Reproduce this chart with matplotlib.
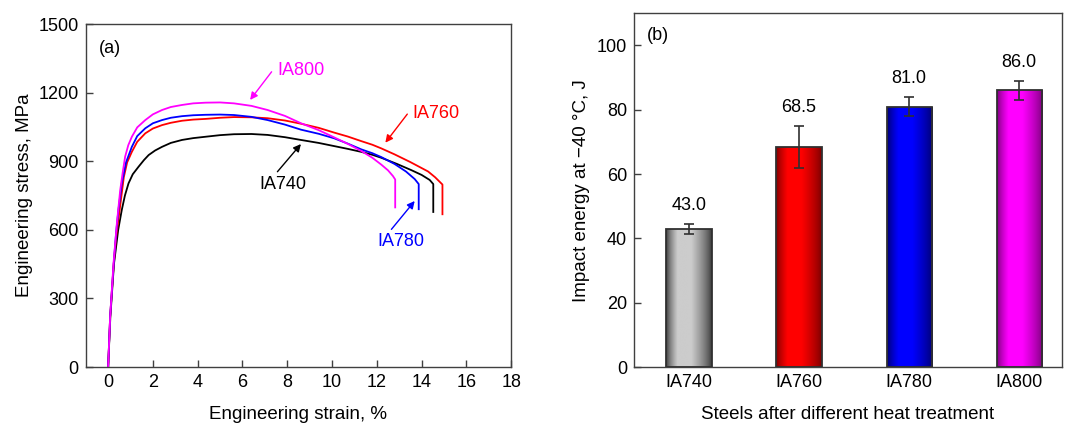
import numpy as np
import matplotlib
matplotlib.use('Agg')
import matplotlib.pyplot as plt

plt.rcParams['font.family'] = ['Liberation Sans', 'DejaVu Sans']
plt.rcParams['font.size'] = 13

# (a) engineering stress-strain curves
strain_740 = [0, 0.1, 0.26, 0.45, 0.61, 0.75, 0.91, 1.1, 1.36, 1.6, 1.81, 2.1, 2.41, 2.8, 3.3, 3.8, 4.35, 5.0, 5.62, 6.4,
              7.12, 7.9, 8.61, 9.4, 10.1, 10.7, 11.3, 11.8, 12.2, 12.9, 13.54, 14.0, 14.36, 14.52, 14.52]
stress_740 = [0, 220, 450, 600, 687, 750, 803, 843, 876, 905, 927, 947, 963, 980, 993, 1001, 1007, 1014, 1018, 1019,
              1015, 1005, 993, 980, 966, 954, 941, 928, 915, 888, 861, 840, 818, 800, 678]

strain_760 = [0, 0.09, 0.25, 0.36, 0.48, 0.7, 0.85, 1.06, 1.3, 1.66, 2.0, 2.41, 2.8, 3.3, 3.8, 4.35, 5.0, 5.62, 6.4,
              7.12, 7.9, 8.61, 9.4, 10.1, 10.7, 11.3, 11.8, 12.2, 12.79, 13.5, 14.29, 14.6, 14.93, 14.93]
stress_760 = [0, 220, 450, 570, 660, 830, 895, 941, 985, 1022, 1043, 1058, 1068, 1077, 1082, 1085, 1090, 1093, 1092,
              1088, 1078, 1064, 1046, 1025, 1008, 988, 972, 956, 930, 896, 855, 830, 798, 668]

strain_780 = [0, 0.09, 0.25, 0.36, 0.46, 0.61, 0.8, 1.06, 1.3, 1.66, 2.0, 2.41, 2.8, 3.3, 3.8, 4.35, 5.0, 5.62, 6.4,
              7.12, 7.9, 8.61, 9.4, 10.1, 10.7, 11.3, 11.8, 12.2, 12.79, 13.3, 13.69, 13.87, 13.87]
stress_780 = [0, 220, 453, 590, 687, 803, 895, 963, 1010, 1044, 1066, 1080, 1090, 1097, 1101, 1103, 1104, 1102, 1094,
              1080, 1060, 1038, 1020, 1000, 977, 952, 935, 918, 888, 855, 822, 800, 690]

strain_800 = [0, 0.09, 0.24, 0.39, 0.54, 0.65, 0.76, 0.9, 1.06, 1.3, 1.66, 2.0, 2.41, 2.8, 3.3, 3.8, 4.35, 5.0, 5.62,
              6.4, 7.12, 7.9, 8.61, 9.4, 10.1, 10.7, 11.3, 11.8, 12.2, 12.5, 12.72, 12.82, 12.82]
stress_800 = [0, 220, 453, 628, 774, 850, 920, 970, 1007, 1048, 1080, 1105, 1124, 1137, 1146, 1153, 1156, 1157, 1153,
              1142, 1124, 1098, 1066, 1036, 1004, 976, 945, 915, 885, 860, 835, 820, 698]

# (b) impact energy
steels = ['IA740', 'IA760', 'IA780', 'IA800']
energy = [43.0, 68.5, 81.0, 86.0]
energy_err = [1.6, 6.5, 3.0, 3.0]

fig = plt.figure(figsize=(10.65, 4.28), dpi=100)
ax1 = fig.add_axes([0.0805, 0.1425, 0.3995, 0.8014])
ax2 = fig.add_axes([0.5953, 0.1425, 0.4019, 0.8264])

spine_col = '#404040'
for ax in (ax1, ax2):
    for s in ax.spines.values():
        s.set_color(spine_col)
        s.set_linewidth(1.0)
    ax.tick_params(direction='in', length=5, width=1, color=spine_col,
                   labelsize=13, pad=5, top=False, right=False)

lw = 1.3
ax1.plot(strain_740, stress_740, color='black', lw=lw)
ax1.plot(strain_760, stress_760, color='#ff0000', lw=lw)
ax1.plot(strain_780, stress_780, color='#0000ff', lw=lw)
ax1.plot(strain_800, stress_800, color='#ff00ff', lw=lw)

ax1.set_xlim(-1, 18)
ax1.set_ylim(0, 1500)
ax1.set_xticks(range(0, 19, 2))
ax1.set_yticks(range(0, 1501, 300))
ax1.set_xlabel('Engineering strain, %', fontsize=13.5, labelpad=11)
ax1.set_ylabel('Engineering stress, MPa', fontsize=13.5, labelpad=4)
ax1.text(-0.43, 1393, '(a)', fontsize=13, va='center', ha='left')

def label(ax, text, col, txy, tail, tip):
    ax.text(txy[0], txy[1], text, color=col, fontsize=13, ha='left', va='center')
    ax.annotate('', xy=tip, xytext=tail,
                arrowprops=dict(arrowstyle='-|>', color=col, lw=1.0,
                                mutation_scale=11, shrinkA=0, shrinkB=0))

label(ax1, 'IA800', '#ff00ff', (7.56, 1295), (7.3, 1291), (6.34, 1168))
label(ax1, 'IA760', '#ff0000', (13.57, 1109), (13.36, 1106), (12.38, 981))
label(ax1, 'IA740', 'black', (6.74, 800), (7.56, 854), (8.61, 975))
label(ax1, 'IA780', '#0000ff', (12.02, 550), (12.65, 602), (13.69, 726))

# (b) bars with a horizontal shading
x = np.arange(len(steels))
width = 0.41
edge_dark = [(0.20, 0.20, 0.20), (0.45, 0.0, 0.0), (0.0, 0.0, 0.40), (0.45, 0.0, 0.45)]
face_light = [(0.80, 0.80, 0.80), (1.0, 0.0, 0.0), (0.0, 0.0, 1.0), (1.0, 0.0, 1.0)]

bars = ax2.bar(x, energy, width=width, facecolor='none', edgecolor='#303030',
               linewidth=1.3, zorder=3)
t = np.linspace(0, 1, 200)
prof = np.clip(np.minimum(t / 0.25, (1 - t) / 0.45), 0, 1) ** 0.7
for i, b in enumerate(bars):
    d = np.array(edge_dark[i])
    l = np.array(face_light[i])
    img = d[None, :] + (l - d)[None, :] * prof[:, None]
    im = ax2.imshow(img[None, :, :], aspect='auto', zorder=2,
                    extent=(b.get_x(), b.get_x() + b.get_width(), 0, b.get_height()))
    im.set_clip_path(b)

ax2.errorbar(x, energy, yerr=energy_err, fmt='none', ecolor='#303030',
             elinewidth=1.2, capsize=3.5, capthick=1.2, zorder=4)
for xi, v, e in zip(x, energy, energy_err):
    ax2.annotate(f'{v:.1f}', (xi, v + e), xytext=(0, 7), textcoords='offset points',
                 ha='center', va='bottom', fontsize=13)

ax2.set_xlim(-0.5, 3.39)
ax2.set_ylim(0, 110)
ax2.set_xticks(x)
ax2.set_xticklabels(steels)
ax2.set_yticks(range(0, 101, 20))
ax2.set_xlabel('Steels after different heat treatment', fontsize=13.5, labelpad=11)
ax2.set_ylabel('Impact energy at \u221240 \u00b0C, J', fontsize=13.5, labelpad=5)
ax2.text(-0.385, 103, '(b)', fontsize=13, va='center', ha='left')

fig.savefig('out.png', dpi=100, facecolor='white')
